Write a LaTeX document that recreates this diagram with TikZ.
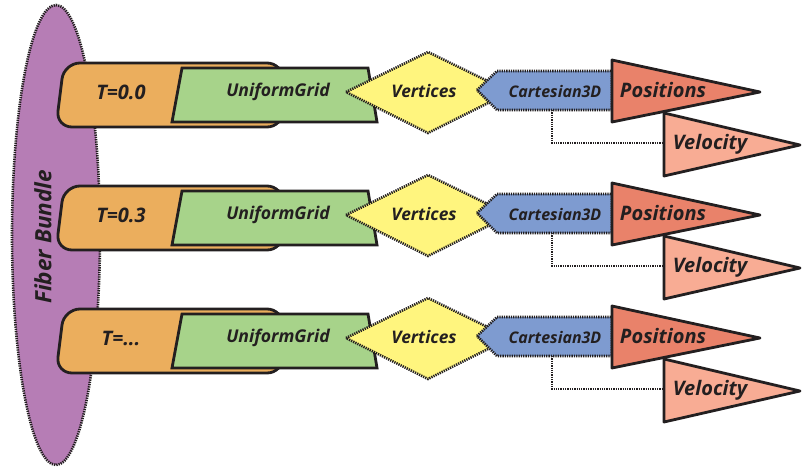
\documentclass[tikz,border=0pt]{standalone}
\usepackage{fontspec}
\setmainfont{Open Sans}
\definecolor{ink}{HTML}{231F20}
\definecolor{bundlefill}{HTML}{B67DB5}
\definecolor{timefill}{HTML}{EBAE5D}
\definecolor{gridfill}{HTML}{A7D38A}
\definecolor{vertfill}{HTML}{FFF57E}
\definecolor{cartfill}{HTML}{7E9BD0}
\definecolor{posfill}{HTML}{E9826A}
\definecolor{velfill}{HTML}{F8AC94}
\newcommand{\timelabel}[1]{\ifcase#1 T=0.0\or T=0.3\or T=...\fi}
\begin{document}
\begin{tikzpicture}[x=1pt,y=-1pt,
  solidedge/.style={draw=ink, line width=2.8pt},
  dotedge/.style={draw=ink, line width=2.6pt, dash pattern=on 1.3pt off 1.0pt},
  link/.style={draw=ink, line width=2.6pt, dash pattern=on 1.3pt off 1.0pt},
  lbl/.style={font=\bfseries\itshape, text=ink, inner sep=0pt}]
\useasboundingbox (0,0) rectangle (803,469);
\draw[dotedge, fill=bundlefill] (56,235) ellipse [x radius=44, y radius=230];
\node[lbl, font=\fontsize{22.5}{26}\selectfont\bfseries\itshape, rotate=90] (fiber) at (43,237) {Fiber Bundle};
\foreach \r in {0,1,2}{
\begin{scope}[yshift=-\r*123pt]
  \draw[solidedge, fill=timefill, rounded corners=16pt] (64,63) -- (283,63) -- (283,127) -- (56,127) -- cycle;
  \draw[solidedge, fill=gridfill] (182,68) -- (368,68) -- (377,122) -- (172,122) -- cycle;
  \coordinate (hexb\r) at (552,110);
  \coordinate (velw\r) at (664,143);
  \draw[link] (hexb\r) |- (velw\r);
  \draw[dotedge, fill=vertfill] (346,92) -- (428,52) -- (510,92) -- (428,133) -- cycle;
  \draw[dotedge, fill=cartfill] (477,90) -- (497,71) -- (612,71) -- (612,110) -- (497,110) -- cycle;
  \draw[solidedge, fill=posfill, line join=round] (612,60) -- (760,92) -- (612,122) -- cycle;
  \draw[solidedge, fill=velfill, line join=round] (664,113) -- (800,145) -- (664,176) -- cycle;
  \node[lbl, font=\fontsize{20}{23}\selectfont\bfseries\itshape] (time\r) at (121,92) {\timelabel{\r}};
  \node[lbl, font=\fontsize{17.6}{20}\selectfont\bfseries\itshape] (grid\r) at (278,92) {UniformGrid};
  \node[lbl, font=\fontsize{17.3}{20}\selectfont\bfseries\itshape] (vert\r) at (424,91) {Vertices};
  \node[lbl, font=\fontsize{16}{19}\selectfont\bfseries\itshape] (cart\r) at (555,91) {Cartesian3D};
  \node[lbl, font=\fontsize{20}{23}\selectfont\bfseries\itshape] (pos\r) at (663,90) {Positions};
  \node[lbl, font=\fontsize{20}{23}\selectfont\bfseries\itshape] (vel\r) at (710,144) {Velocity};
\end{scope}
}
\end{tikzpicture}
\end{document}
